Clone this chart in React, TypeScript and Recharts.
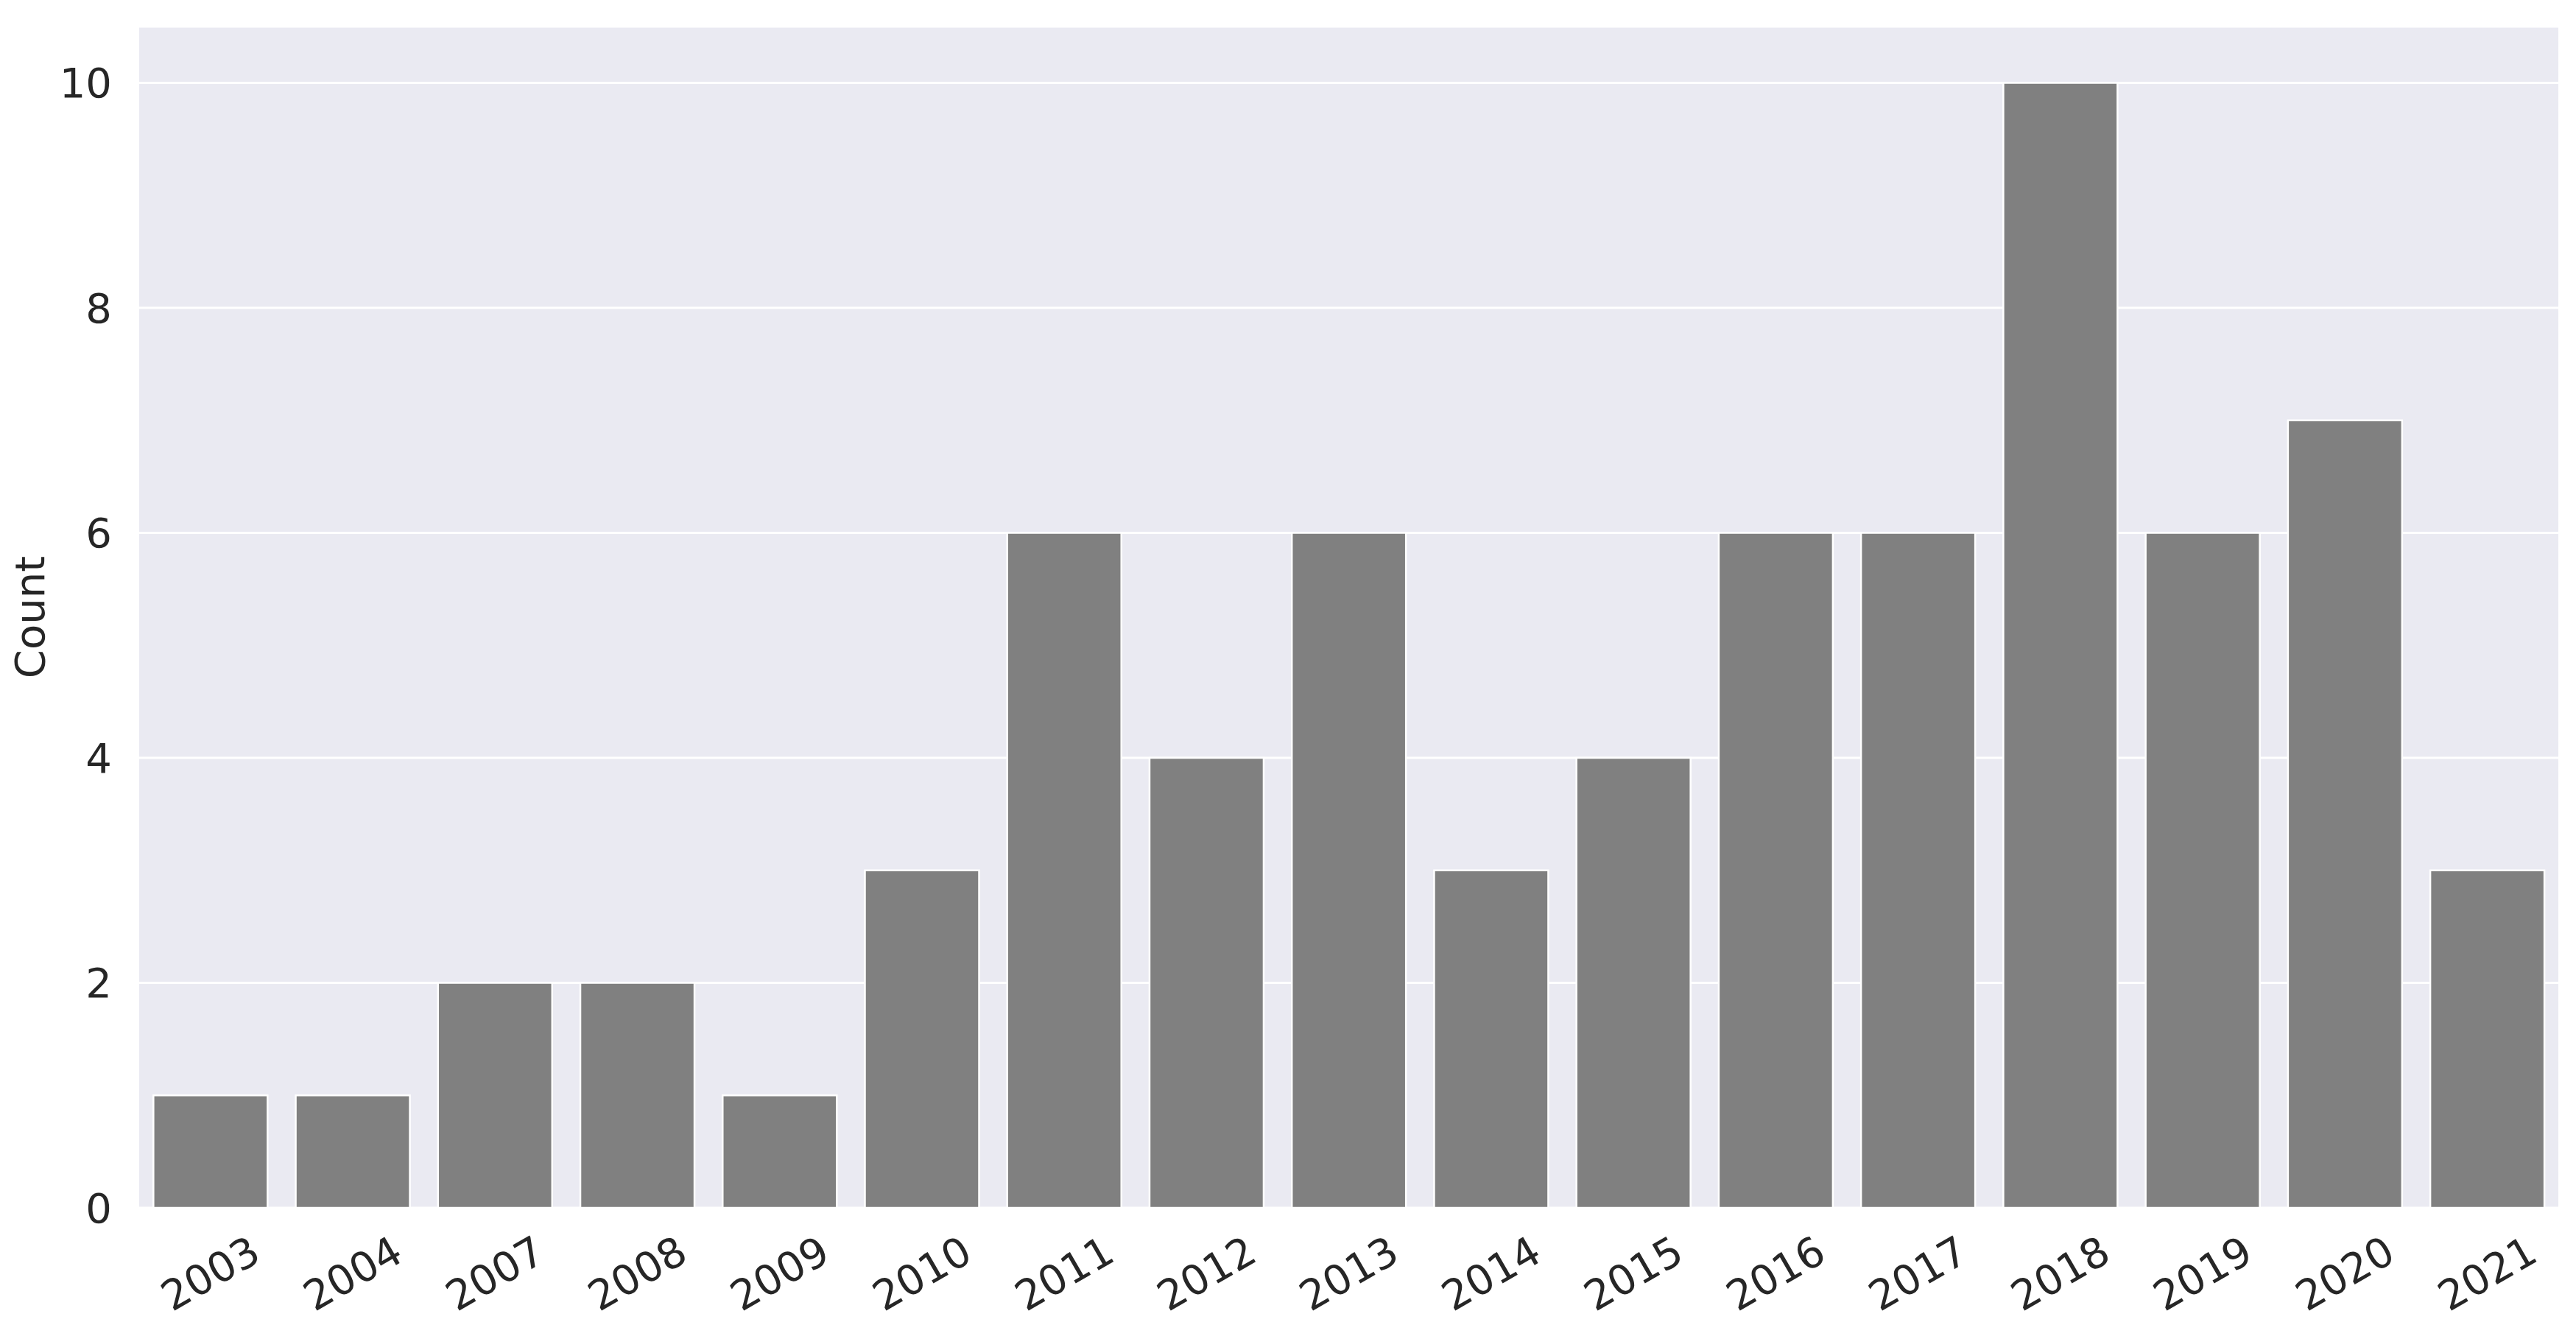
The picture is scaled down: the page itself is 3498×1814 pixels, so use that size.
import React from 'react';
import { BarChart, Bar, XAxis, YAxis, CartesianGrid } from 'recharts';

const years = ['2003', '2004', '2007', '2008', '2009', '2010', '2011', '2012', '2013', '2014', '2015', '2016', '2017', '2018', '2019', '2020', '2021'];
const counts = [1, 1, 2, 2, 1, 3, 6, 4, 6, 3, 4, 6, 6, 10, 6, 7, 3];
const yTicks = [0, 2, 4, 6, 8, 10];

const data = years.map((y, i) => ({ year: y, count: counts[i] }));

const FONT = '"DejaVu Sans", sans-serif';
const TEXT = '#262626';

const XTick = (props: any) => {
  const { x, y, payload } = props;
  return (
    <g transform={`translate(${x},${y + 89}) rotate(-30)`}>
      <text x={0} y={0} textAnchor="middle" dy="0.35em" fontSize={56} fontFamily={FONT} fill={TEXT}>
        {payload.value}
      </text>
    </g>
  );
};

const YLabel = (props: any) => {
  const vb = props.viewBox || {};
  const cx = 40;
  const cy = vb.y + vb.height / 2;
  return (
    <text x={cx} y={cy} transform={`rotate(-90, ${cx}, ${cy})`} textAnchor="middle" dy="0.35em" fontSize={56} fontFamily={FONT} fill={TEXT}>
      Count
    </text>
  );
};

export default function App() {
  return (
    <div style={{ position: 'absolute', left: 0, top: 0, background: '#fff' }}>
      <BarChart
        width={3498}
        height={1814}
        data={data}
        margin={{ top: 36, right: 24, bottom: 0, left: 0 }}
        barCategoryGap="10%"
      >
        <CartesianGrid vertical={false} stroke="#ffffff" strokeWidth={3} fill="#EAEAF2" fillOpacity={1} />
        <XAxis
          dataKey="year"
          axisLine={false}
          tickLine={false}
          tickSize={0}
          tickMargin={0}
          tick={<XTick />}
          interval={0}
          height={174}
        />
        <YAxis
          width={189}
          domain={[0, 10.5]}
          ticks={yTicks}
          axisLine={false}
          tickLine={false}
          tickSize={0}
          tickMargin={37}
          tick={{ fontSize: 56, fontFamily: FONT, fill: TEXT }}
          label={<YLabel />}
        />
        <Bar dataKey="count" fill="#808080" stroke="#ffffff" strokeWidth={2.5} isAnimationActive={false} />
      </BarChart>
    </div>
  );
}
